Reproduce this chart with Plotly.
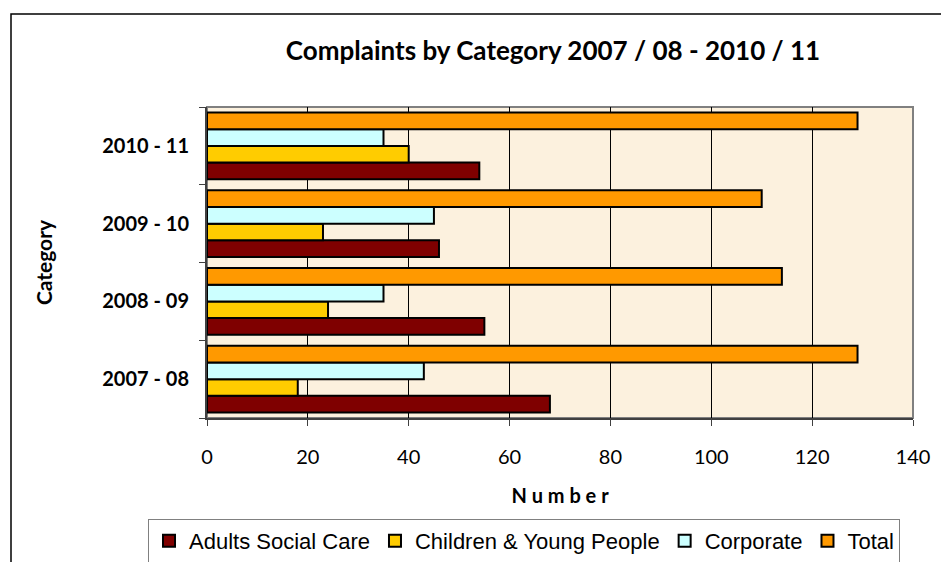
import plotly.graph_objects as go

categories = ["2007 - 08", "2008 - 09", "2009 - 10", "2010 - 11"]
adults = [68, 55, 46, 54]
children = [18, 24, 23, 40]
corporate = [43, 35, 45, 35]
total = [129, 114, 110, 129]
x_ticks = [0, 20, 40, 60, 80, 100, 120, 140]

series = [
    ("Adults Social Care", adults, "#7F0000"),
    ("Children & Young People", children, "#FFCC00"),
    ("Corporate", corporate, "#CCFFFF"),
    ("Total", total, "#FF9900"),
]

fig = go.Figure()
for name, vals, col in series:
    fig.add_trace(go.Bar(
        y=categories, x=vals, name=name, orientation="h",
        marker=dict(color=col, line=dict(color="black", width=2)),
    ))

L, R, T, B = 207, 28, 107, 144
W, H = 941, 562
pw, ph = W - L - R, H - T - B

def px(x):
    return (x - L) / pw

def py(y):
    return (H - B - y) / ph

fig.update_layout(
    width=W, height=H,
    margin=dict(l=L, r=R, t=T, b=B, autoexpand=False),
    paper_bgcolor="white",
    plot_bgcolor="#FCF1DE",
    barmode="group",
    bargap=0.14,
    bargroupgap=0,
    title=dict(text="<b>Complaints by Category 2007 / 08 - 2010 / 11</b>",
               xref="container", x=553 / W, xanchor="center",
               yref="container", y=1 - 51 / H, yanchor="middle",
               font=dict(family="Lato", size=26, color="black")),
    xaxis=dict(range=[0, 140], tickvals=x_ticks, showgrid=True,
               gridcolor="black", gridwidth=1, zeroline=False, automargin=False,
               showline=True, linecolor="#404040", linewidth=2,
               ticks="outside", ticklen=6, tickcolor="#404040",
               ticklabelstandoff=14,
               tickfont=dict(family="Lato", size=20, color="black"),
               title=dict(text="<b>N u m b e r</b>", standoff=22,
                          font=dict(family="Lato", size=20, color="black"))),
    yaxis=dict(showgrid=False, showline=True, linecolor="#404040", linewidth=2,
               automargin=False,
               ticks="outside", ticklen=6, tickcolor="#404040",
               tickson="boundaries", ticklabelstandoff=12,
               tickfont=dict(family="Lato", size=20, color="black", weight="bold"),
               title=dict(text="<b>Category</b>", standoff=44,
                          font=dict(family="Lato", size=21, color="black"))),
    legend=dict(orientation="h", x=px(148), xanchor="left", y=py(519), yanchor="top",
                bordercolor="#808080", borderwidth=1, bgcolor="white",
                font=dict(family="Liberation Sans", size=22, color="black"),
                traceorder="normal", itemwidth=30, tracegroupgap=0),
    showlegend=True,
    shapes=[
        dict(type="rect", xref="paper", yref="paper", x0=0, x1=1, y0=0, y1=1,
             line=dict(color="#808080", width=2), layer="below"),
        dict(type="rect", xref="paper", yref="paper", x0=px(11), x1=px(960),
             y0=py(600), y1=py(14), line=dict(color="black", width=1.5)),
    ],
)

fig.write_html("out.html")
